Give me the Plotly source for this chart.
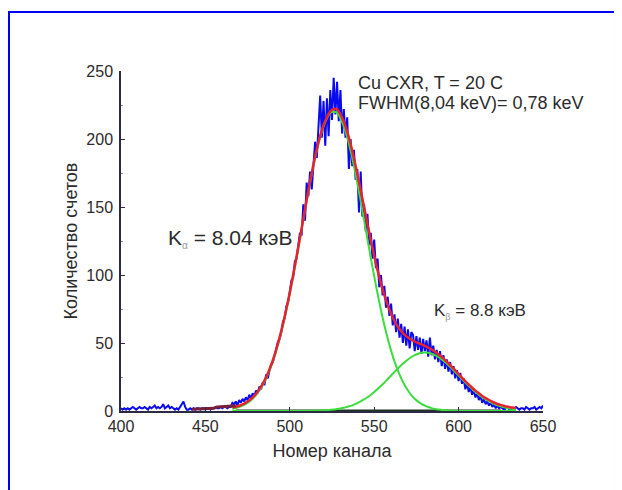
import plotly.graph_objects as go

# ---- data ----
channel_start = 400
counts = [
    2,1,2,1,2,1,2,3,2,1,
    2,3,2,2,3,2,1,3,2,3,
    4,2,3,2,3,5,2,3,4,2,
    3,2,1,2,1,3,5,7,3,1,
    1,2,1,2,1,2,2,1,2,2,
    1,2,2,1,2,2,3,2,2,3,
    2,3,3,2,3,3,
    6,5,7,4,8,6,9,7,10,8,
    12,9,13,11,15,13,18,16,21,19,
    27,24,30,34,36,41,44,51,53,58,
    66,68,77,80,88,
    96,98,110,112,123,131,129,152,140,168,
    158,176,163,180,198,186,212,232,201,228,
    195,230,202,236,214,245,218,242,213,236,
    204,222,201,216,178,200,180,192,170,178,
    146,176,143,152,132,145,122,131,112,126,
    105,112,91,100,85,92,76,84,70,79,
    63,71,58,68,54,64,50,62,48,60,
    46,58,56,44,55,45,54,42,53,44,
    52,40,54,41,48,38,45,36,44,33,
    41,31,38,29,36,27,33,24,30,22,
    28,20,24,16,21,14,18,12,15,10,
    13,8,11,6,9,5,7,4,6,3,
    5,2,4,2,3,
    2,1,2,3,1,2,1,2,3,2,1,2,2,1,3,2,1,2,2,3,1,2,3,2,4,
]
channels = list(range(channel_start, channel_start + len(counts)))

fit_channels = list(range(466, 636, 2))
fit_total = [2.5,3.1,3.9,4.9,6.2,7.9,10.0,12.7,16.1,20.1,25.0,30.8,37.5,45.4,54.3,64.3,75.3,87.2,
             100.1,113.5,127.4,141.4,155.3,168.7,181.2,192.6,202.3,210.3,216.2,220.4,222.1,221.9,
             218.1,212.7,205.4,196.4,185.9,174.5,162.4,149.9,137.5,125.5,114.1,103.3,93.8,85.2,
             77.8,71.5,66.2,62.0,58.7,56.0,54.0,52.4,51.1,50.0,49.0,47.9,46.7,45.2,43.6,41.8,
             39.7,37.4,35.1,32.5,29.9,27.2,24.5,21.9,19.5,17.1,15.0,13.0,11.1,9.5,8.1,6.8,5.7,
             4.8,4.1,3.4,2.9,2.5,2.1]
k_alpha = [1.5,2.1,2.9,3.9,5.2,6.9,9.0,11.7,15.1,19.1,24.0,29.8,36.5,44.4,53.3,63.3,74.3,86.2,
           99.1,112.5,126.4,140.4,154.3,167.7,180.2,191.6,201.3,209.3,215.2,219.4,220.0,219.4,
           215.2,209.3,201.3,191.6,180.2,167.7,154.3,140.4,126.4,112.5,99.1,86.2,74.3,63.3,
           53.3,44.4,36.5,29.8,24.0,19.1,15.1,11.7,9.0,6.9,5.2,3.9,2.9,2.1,1.5,1.1,0.8,0.5,
           0.4,0.3,0.2,0.1] + [0] * 17
k_beta = [0] * 21 + [0.1,0.1,0.1,0.2,0.3,0.4,0.5,0.6,0.9,1.1] + [
           1.5,1.9,2.4,3.1,3.8,4.7,5.8,7.1,8.5,10.1,12.0,14.0,16.1,18.5,20.9,23.5,26.1,28.7,
           31.2,33.7,35.9,37.9,39.7,41.1,42.1,42.8,43.0,42.8,42.1,41.1,39.7,37.9,35.9,33.7,
           31.2,28.7,26.1,23.5,20.9,18.5,16.1,14.0,12.0,10.1,8.5,7.1,5.8,4.7,3.8,3.1,2.4,
           1.9,1.5,1.1]
bg_channels = [442, 450, 455, 457, 462, 468]
bg_values = [1.2, 1.6, 2.0, 3.0, 3.5, 3.8]
zero_channels = [468, 625]
zero_values = [0.6, 0.6]

x_ticks = [400, 450, 500, 550, 600, 650]
y_ticks = [0, 50, 100, 150, 200, 250]

FONT = "Liberation Sans, Arial, sans-serif"
TXT = "#2b2b2b"

fig = go.Figure()
fig.add_trace(go.Scatter(x=channels, y=counts, mode="lines",
                         line=dict(color="#0a0af0", width=2), showlegend=False))
fig.add_trace(go.Scatter(x=zero_channels, y=zero_values, mode="lines",
                         line=dict(color="#1f3320", width=1.5), showlegend=False))
fig.add_trace(go.Scatter(x=fit_channels, y=k_alpha, mode="lines", line_shape="spline",
                         line=dict(color="#3ddc3d", width=2), showlegend=False))
fig.add_trace(go.Scatter(x=fit_channels, y=k_beta, mode="lines", line_shape="spline",
                         line=dict(color="#3ddc3d", width=2), showlegend=False))
fig.add_trace(go.Scatter(x=fit_channels, y=fit_total, mode="lines", line_shape="spline",
                         line=dict(color="#e8232e", width=2.5), showlegend=False))
fig.add_trace(go.Scatter(x=bg_channels, y=bg_values, mode="lines",
                         line=dict(color="#7a1f3a", width=3), showlegend=False))

axis_common = dict(showgrid=False, zeroline=False, showline=True, linecolor="#2a2a44",
                   linewidth=1.5, ticks="inside", ticklen=4, tickcolor="#2a2a44",
                   tickfont=dict(family=FONT, size=16, color=TXT))
fig.update_xaxes(range=[400, 650], tickvals=x_ticks, **axis_common,
                 title=dict(text="Номер канала", font=dict(family=FONT, size=18, color=TXT), standoff=10))
fig.update_yaxes(range=[0, 250], tickvals=y_ticks, **axis_common, ticklabelstandoff=3,
                 minor=dict(ticks="inside", ticklen=2, tickcolor="#888", dtick=25),
                 title=dict(text="Количество счетов", font=dict(family=FONT, size=18, color=TXT), standoff=4))

ann = [
    dict(x=539.5, y=241, text="Cu CXR, T = 20 C", size=18),
    dict(x=539.5, y=226.5, text="FWHM(8,04 keV)= 0,78 keV", size=18),
    dict(x=426.5, y=127, text="K<sub><span style='font-size:10px;color:#999'>α</span></sub> = 8.04 кэВ", size=21),
    dict(x=584.5, y=73, text="K<sub><span style='font-size:9px;color:#999'>β</span></sub> = 8.8 кэВ", size=17),
]
for a in ann:
    fig.add_annotation(x=a["x"], y=a["y"], text=a["text"], showarrow=False, xanchor="left",
                       yanchor="middle", font=dict(family=FONT, size=a["size"], color=TXT))

fig.add_shape(type="rect", xref="paper", yref="paper", x0=-0.2654, x1=1.1706, y0=-0.35, y1=1.1735,
              line=dict(color="#0000ee", width=2), layer="above")

fig.update_layout(width=622, height=490, margin=dict(l=113, r=87, t=63, b=87),
                  paper_bgcolor="white", plot_bgcolor="white", showlegend=False)

fig.write_html("out.html")
